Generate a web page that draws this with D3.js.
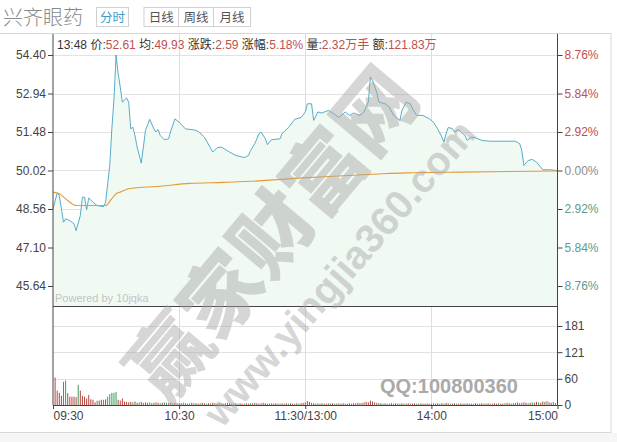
<!DOCTYPE html>
<html><head><meta charset="utf-8">
<script src="https://cdn.jsdelivr.net/npm/d3@7"></script>
<style>body{margin:0;background:#fff;} svg{display:block}</style></head>
<body>
<svg id="c" width="617" height="442"></svg>
<script>
// ---- data ----
const stockName = "兴齐眼药";
const tabs = ["分时", "日线", "周线", "月线"];
const timeTicks = [0, 60, 120, 180, 240];
const timeLabels = ["09:30", "10:30", "11:30/13:00", "14:00", "15:00"];
const priceTicks = [54.40, 52.94, 51.48, 50.02, 48.56, 47.10, 45.64];
const pctLabels = ["8.76%", "5.84%", "2.92%", "0.00%", "2.92%", "5.84%", "8.76%"];
const volTicks = [0, 60, 121, 181];
const prevClose = 50.02;

const priceMinutes = [0,2,3,5,6,8,10,11,13,14,15,16,17,19,21,24,25,26,27,28,29,30,31,32,33,34,35,36,37,38,39,40,42,43,44,46,48,49,50,51,53,55,56,58,60,63,67,69,72,76,78,80,84,87,91,93,94,96,98,99,101,102,104,108,109,112,115,118,120,121,123,124,126,128,131,134,136,139,141,143,146,148,150,151,152,154,155,158,160,162,165,166,168,170,171,173,176,179,181,183,185,186,187,188,190,191,193,194,196,197,199,201,204,208,214,220,222,223,224,226,228,230,233,236,240];
const priceValues = [48.57,49.17,49.07,48.06,48.19,48.12,48.00,47.74,48.31,49.01,49.01,48.53,48.98,48.82,48.69,48.65,48.81,49.51,50.20,51.60,52.70,54.40,53.69,53.18,52.61,52.70,52.77,52.61,51.60,51.66,51.35,50.91,50.30,50.91,51.54,51.96,51.60,51.48,51.57,51.35,51.19,51.22,51.51,51.98,51.85,51.60,51.56,51.51,51.29,50.72,50.88,50.91,50.72,50.59,50.51,50.59,50.78,51.04,51.42,51.48,51.23,51.00,51.19,51.22,51.42,51.65,51.96,52.03,52.24,52.55,52.55,51.92,52.24,52.20,52.30,52.15,52.03,52.24,52.11,52.20,52.11,52.24,52.62,53.57,53.44,52.99,52.62,52.55,52.43,52.11,51.92,52.30,52.61,52.55,52.37,52.11,52.11,51.98,51.85,51.60,51.29,51.10,51.42,51.65,51.61,51.48,51.57,51.48,51.35,51.16,51.29,51.26,51.16,51.13,51.13,51.13,51.04,50.79,50.21,50.40,50.44,50.34,50.05,50.05,50.02];

const avgMinutes = [0,3,7,11,25,28,30,32,36,51,65,81,94,119,155,168,194,240];
const avgValues = [49.20,49.14,48.88,48.69,48.69,48.95,49.14,49.20,49.33,49.42,49.53,49.57,49.61,49.74,49.89,49.93,49.96,50.00];

// volume per minute, minutes 1..240 (hundreds of lots)
const volumes = [63,33,28,21,53,56,27,19,19,19,18,46,33,21,19,15,23,13,12,6,10,10,12,12,13,19,25,28,28,30,12,10,15,8,7,6,
 7,6,8,5,6,7,5,6,5,6,4,5,6,5,4,5,6,5,4,5,4,5,4,4,
 4,5,4,3,4,5,4,4,3,4,5,4,3,4,4,5,4,3,4,4,3,4,5,4,3,4,4,3,4,3,
 3,4,3,4,4,5,4,3,4,5,4,3,3,4,3,4,3,3,4,3,4,3,4,3,3,4,3,4,5,6,
 9,7,5,4,3,4,3,4,3,3,4,3,4,3,3,4,3,4,3,3,4,3,4,4,5,4,5,6,7,6,
 10,8,6,5,4,4,3,4,3,3,4,3,4,3,3,4,3,3,4,3,3,4,3,3,4,3,3,4,3,3,
 4,3,4,3,4,3,5,4,3,3,4,3,3,4,3,3,4,3,3,3,4,3,3,4,3,3,4,3,3,4,
 3,4,3,3,4,5,4,3,4,5,6,4,5,6,5,4,5,6,5,7,6,5,8,7,9,6,5,7,4,14];
const volDirs = "rrrrggrrrrrgrrrrrrrrgrrgrgggggrrrrrr" +
 "rgrrgrgrrgrgrrgrggrrgrgr" +
 "rgrrgrgrrgrrgrgrrgrgrrgrrgrgrr" +
 "grrgrgrrgrrgrgrrgrgrrgrrgrgrrr" +
 "rrgrrgrgrrgrrgrgrrgrrgrgrrgrrr" +
 "rrrgrrgrgrrgrrgrgrrgrrgrgrrgrr" +
 "grrgrgrrgrrgrgrrgrrgrgrrgrrgrr" +
 "rgrrgrrgrgrrgrrgrgrrgrrrgrrgrg";

const info = [["13:48 ", ""], ["价:", "52.61"], [" 均:", "49.93"], [" 涨跌:", "2.59"], [" 涨幅:", "5.18%"], [" 量:", "2.32万手"], [" 额:", "121.83万"]];

// ---- drawing ----
const svg = d3.select("#c");
const NUM = "'Liberation Sans', Arial, sans-serif";
const CJK = "'Liberation Sans', 'Noto Sans CJK SC', sans-serif";
const L = 53, R = 557.5, TOP = 34, PBOT = 306, VBOT = 405;

const x = d3.scaleLinear().domain([0, 240]).range([L, R]);
const y = d3.scaleLinear().domain([45.64, 54.40]).range([286, 55]);
const yv = d3.scaleLinear().domain([0, 226.8]).range([VBOT, PBOT]);

// background frame
svg.append("rect").attr("x", 0).attr("y", 433).attr("width", 617).attr("height", 9).attr("fill", "#f6f6f6");
svg.append("rect").attr("x", -1).attr("y", 33.5).attr("width", 612).attr("height", 399).attr("fill", "none").attr("stroke", "#d8d8d8");

// header
svg.append("text").attr("x", 3).attr("y", 25).attr("font-family", "'Noto Sans CJK SC', sans-serif")
  .attr("font-size", 20).attr("font-weight", 300).attr("fill", "#8a8a8a").text(stockName);
const tabX = [96.5, 144, 178.5, 213.5], tabW = [32, 34.5, 35, 37];
tabs.forEach((t, i) => {
  svg.append("rect").attr("x", tabX[i]).attr("y", 7.5).attr("width", tabW[i]).attr("height", 19)
    .attr("fill", "#fff").attr("stroke", "#d0d0d0");
  svg.append("text").attr("x", tabX[i] + tabW[i] / 2).attr("y", 22).attr("text-anchor", "middle")
    .attr("font-family", "'Noto Sans CJK SC', sans-serif").attr("font-size", 12.5)
    .attr("fill", i === 0 ? "#3a9cc8" : "#555").text(t);
});

// grids
const g = svg.append("g");
priceTicks.forEach(p => g.append("line").attr("x1", L).attr("x2", R).attr("y1", Math.round(y(p)) + 0.5).attr("y2", Math.round(y(p)) + 0.5).attr("stroke", "#e2e2e2"));
volTicks.slice(1).forEach(v => g.append("line").attr("x1", L).attr("x2", R).attr("y1", Math.round(yv(v)) + 0.5).attr("y2", Math.round(yv(v)) + 0.5).attr("stroke", "#e2e2e2"));
timeTicks.slice(1, 4).forEach(m => g.append("line").attr("x1", Math.round(x(m)) + 0.5).attr("x2", Math.round(x(m)) + 0.5).attr("y1", TOP).attr("y2", VBOT).attr("stroke", "#dedede"));

// price area & lines
const pts = priceMinutes.map((m, i) => [m, priceValues[i]]);
svg.append("path").datum(pts)
  .attr("d", d3.area().x(d => x(d[0])).y0(PBOT).y1(d => y(d[1])))
  .attr("fill", "#effaf2").attr("opacity", 0.95);
svg.append("path").datum(pts)
  .attr("d", d3.line().x(d => x(d[0])).y(d => y(d[1])))
  .attr("fill", "none").attr("stroke", "#46a3c4").attr("stroke-width", 0.9);
const apts = avgMinutes.map((m, i) => [m, avgValues[i]]);
svg.append("path").datum(apts)
  .attr("d", d3.line().curve(d3.curveMonotoneX).x(d => x(d[0])).y(d => y(d[1])))
  .attr("fill", "none").attr("stroke", "#e59a36").attr("stroke-width", 1.1);

// volume bars
svg.append("g").selectAll("rect").data(volumes).join("rect")
  .attr("x", (d, i) => x(i + 1) - 0.5).attr("width", 1)
  .attr("y", d => yv(d)).attr("height", d => VBOT - yv(d))
  .attr("fill", (d, i) => (volDirs[i] || "r") === "g" ? "#3c9a5c" : "#b5473f");

// axes frame lines
svg.append("line").attr("x1", L).attr("x2", L).attr("y1", TOP).attr("y2", VBOT).attr("stroke", "#444");
svg.append("line").attr("x1", R).attr("x2", R).attr("y1", TOP).attr("y2", VBOT).attr("stroke", "#444");
svg.append("line").attr("x1", L).attr("x2", R).attr("y1", PBOT + 0.5).attr("y2", PBOT + 0.5).attr("stroke", "#444");
svg.append("line").attr("x1", L).attr("x2", R).attr("y1", VBOT + 0.5).attr("y2", VBOT + 0.5).attr("stroke", "#444");

function styleAxis(sel) {
  sel.select(".domain").remove();
  sel.selectAll(".tick line").attr("stroke", "#444");
  sel.selectAll(".tick text").attr("font-family", NUM).attr("font-size", 12);
}
const ax1 = svg.append("g").attr("transform", `translate(${L},0)`)
  .call(d3.axisLeft(y).tickValues(priceTicks).tickFormat(d3.format(".2f")).tickSize(5).tickPadding(2));
styleAxis(ax1); ax1.selectAll(".tick text").attr("fill", "#444");
const ax2 = svg.append("g").attr("transform", `translate(${R},0)`)
  .call(d3.axisRight(y).tickValues(priceTicks).tickFormat((d, i) => pctLabels[i]).tickSize(5).tickPadding(2));
styleAxis(ax2);
ax2.selectAll(".tick text").attr("fill", (d, i) => i < 3 ? "#c0504d" : (i === 3 ? "#8c8c8c" : "#5f9a8c"));
const ax3 = svg.append("g").attr("transform", `translate(${R},0)`)
  .call(d3.axisRight(yv).tickValues(volTicks).tickFormat(d3.format("d")).tickSize(5).tickPadding(2));
styleAxis(ax3); ax3.selectAll(".tick text").attr("fill", "#444");
const ax4 = svg.append("g").attr("transform", `translate(0,${VBOT})`)
  .call(d3.axisBottom(x).tickValues(timeTicks).tickFormat((d, i) => timeLabels[i]).tickSize(4).tickPadding(2));
styleAxis(ax4); ax4.selectAll(".tick text").attr("fill", "#444")
  .attr("text-anchor", (d, i) => i === 0 ? "start" : (i === timeTicks.length - 1 ? "end" : "middle"));

// info line
const t = svg.append("text").attr("x", 57).attr("y", 49).attr("font-family", CJK).attr("font-size", 12);
info.forEach(([lab, val]) => {
  t.append("tspan").attr("fill", "#333").text(lab);
  if (val) t.append("tspan").attr("fill", "#c0504d").text(val);
});

svg.append("text").attr("x", 55).attr("y", 302).attr("font-family", NUM).attr("font-size", 11)
  .attr("fill", "#c4c4c4").text("Powered by 10jqka");

// watermark
svg.append("text").attr("transform", "translate(278,238) rotate(-50)").attr("text-anchor", "middle")
  .attr("dominant-baseline", "middle").attr("font-family", "'Noto Sans CJK SC', sans-serif").attr("font-weight", 900)
  .attr("font-size", 80).attr("fill", "#a6a6a6").attr("opacity", 0.45).text("赢家财富网");
svg.append("text").attr("transform", "translate(342,275) rotate(-49)").attr("text-anchor", "middle")
  .attr("dominant-baseline", "middle").attr("font-family", NUM).attr("font-weight", "bold")
  .attr("font-size", 40).attr("fill", "#a6a6a6").attr("opacity", 0.45).text("www.yingjia360.com");
svg.append("text").attr("x", 380).attr("y", 393).attr("font-family", NUM).attr("font-weight", "bold")
  .attr("font-size", 20).attr("fill", "#aaaaaa").text("QQ:100800360");
</script>
</body></html>
